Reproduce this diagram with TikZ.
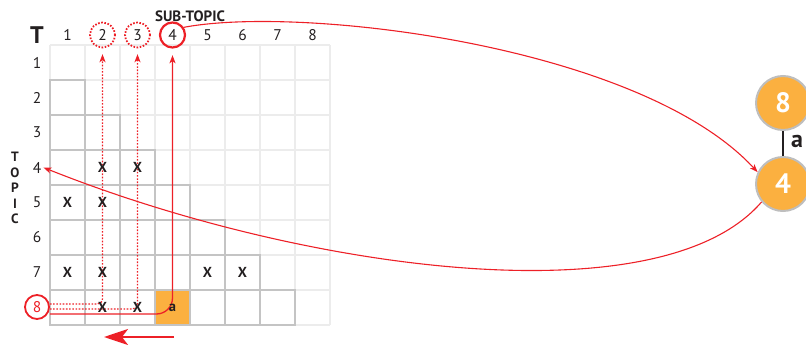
\documentclass[tikz,border=0pt]{standalone}
\usepackage{fontspec}
\setmainfont{PT Sans}
\usetikzlibrary{arrows.meta,calc}
\definecolor{myred}{RGB}{237,32,39}
\definecolor{myorange}{RGB}{251,176,64}
\definecolor{lightgrid}{RGB}{236,236,236}
\definecolor{darkgrid}{RGB}{196,196,196}
\definecolor{ringgray}{RGB}{190,190,190}
\definecolor{txt}{RGB}{35,31,32}
\begin{document}
\begin{tikzpicture}[x=1pt,y=-1pt,
  hdr/.style={circle,minimum size=26pt,inner sep=0pt,text=txt,font=\fontsize{15.5}{17}\selectfont},
  rlab/.style={inner sep=1pt,text=txt,font=\fontsize{15.5}{17}\selectfont},
  xmark/.style={inner sep=0pt,text=txt,font=\bfseries\fontsize{14.5}{16}\selectfont},
  bigc/.style={circle,minimum size=54pt,inner sep=0pt,fill=myorange,draw=ringgray,line width=2pt,text=white,font=\bfseries\fontsize{28}{30}\selectfont},
  redcurve/.style={myred,line width=1.1pt},
  dotline/.style={myred,line width=1.2pt,dash pattern=on 1.6pt off 1.6pt,rounded corners=5pt},
  tip/.style={-{Stealth[length=8pt,width=6pt,inset=2pt]}},
]
\useasboundingbox (0,0) rectangle (806,345);
% light full grid
\foreach \i in {0,...,8}{
  \draw[lightgrid,line width=1.6pt] (50+35*\i,45) -- (50+35*\i,325);
  \draw[lightgrid,line width=1.6pt] (50,45+35*\i) -- (330,45+35*\i);
}
% orange cell
\fill[myorange] (155,290) rectangle (190,325);
% dark staircase
\foreach \r in {2,...,8}{
  \pgfmathtruncatemacro\m{\r-1}
  \foreach \c in {1,...,\m}{
    \draw[darkgrid,line width=1.6pt] (50+35*\c-35,45+35*\r-35) rectangle +(35,35);
  }
}
% headers
\foreach \c in {1,...,8}{
  \node[hdr] (h\c) at (67.5+35*\c-35,35) {\c};
}
\draw[myred,line width=1.8pt,dash pattern=on 1.6pt off 1.6pt] (h2.center) circle (12.5pt);
\draw[myred,line width=1.8pt,dash pattern=on 1.6pt off 1.6pt] (h3.center) circle (12.5pt);
\draw[myred,line width=2.2pt] (h4.center) circle (12.5pt);
% row labels
\foreach \r in {1,...,7}{
  \node[rlab] (r\r) at (37,62.5+35*\r-35) {\r};
}
\node[circle,minimum size=24pt,inner sep=0pt,draw=myred,line width=1.8pt,text=myred,font=\fontsize{15.5}{17}\selectfont] (r8) at (37,307) {8};
% titles
\node[text=txt,font=\bfseries\fontsize{24}{26}\selectfont,inner sep=0pt] (T) at (37,35) {T};
\node[text=txt,font=\bfseries\fontsize{15}{17}\selectfont,inner sep=0pt] (sub) at (190,16) {SUB-TOPIC};
\node[text=txt,font=\bfseries\fontsize{13.5}{15.4}\selectfont,align=center,inner sep=0pt] (topic) at (15,188) {T\\O\\P\\I\\C};
% dotted and solid leads from row 8 to headers
\draw[dotline,tip,shorten >=6pt] ([yshift=3pt]r8.east) -| (h2.south);
\draw[dotline,tip,shorten >=6pt] ([yshift=-2pt]r8.east) -| (h3.south);
\draw[myred,line width=1.3pt,rounded corners=16pt,tip,shorten >=7pt] ([yshift=-7pt]r8.east) -| (h4.south);
% X marks
\foreach \c/\r [count=\k] in {2/4,3/4,1/5,2/5,1/7,2/7,5/7,6/7,2/8,3/8}{
  \node[xmark] (x\k) at (67.5+35*\c-35,62.5+35*\r-35) {X};
}
\node[xmark] (acell) at (172.5,307.5) {a};
% bottom arrow
\coordinate (ba1) at (174,337);
\coordinate (ba2) at (104,337);
\draw[myred,line width=2.4pt,-{Stealth[length=24pt,width=16pt,inset=6pt]}] (ba1) -- (ba2);
% right circles
\node[bigc] (n8) at (783,103) {8};
\node[bigc] (n4) at (783,184) {4};
\draw[txt,line width=2.5pt] (n8) -- (n4);
\node[text=txt,font=\bfseries\fontsize{24}{26}\selectfont,inner sep=0pt] (alab) at (797,141) {a};
% curves
\draw[redcurve,tip] (h4.35) .. controls (300,5) and (640,45) .. (n4.155);
\draw[redcurve,tip] (n4.220) .. controls (660,320) and (300,270) .. ([xshift=1pt]r4.east);
\end{tikzpicture}
\end{document}
